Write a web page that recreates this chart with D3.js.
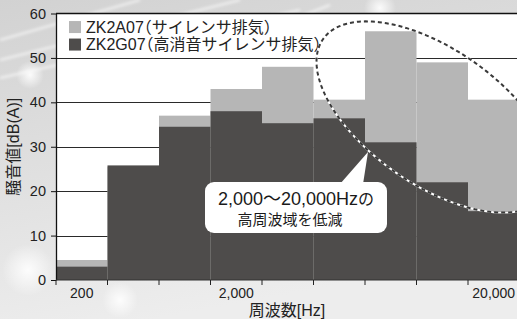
<!DOCTYPE html>
<html>
<head>
<meta charset="utf-8">
<script src="https://cdn.jsdelivr.net/npm/d3@7/dist/d3.min.js"></script>
<style>
  html, body { margin: 0; padding: 0; background: #e6e6e6; }
  svg { display: block; }
  text { font-family: "Liberation Sans", Arial, "Noto Sans CJK JP", sans-serif; font-feature-settings: "halt"; }
</style>
</head>
<body>
<svg id="chart"></svg>
<script>
// frequency bands (9 bands, 200 Hz .. 20,000 Hz)
const bands = ["b1", "b2", "b3", "b4", "b5", "b6", "b7", "b8", "b9"];
const bandLabels = ["200", "", "", "2,000", "", "", "", "", "20,000"];
// ZK2A07 (silencer exhaust)
const standardDb = [4.5, 25.5, 37, 43, 48, 40.6, 56, 49, 40.6];
// ZK2G07 (high-attenuation silencer exhaust)
const quietDb = [3, 25.8, 34.5, 38, 35.3, 36.4, 31, 22, 15.5];
const yTicks = [0, 10, 20, 30, 40, 50, 60];
const seriesNames = ["ZK2A07（サイレンサ排気）", "ZK2G07（高消音サイレンサ排気）"];
const seriesColors = ["#b6b6b6", "#4e4c4b"];

const width = 517, height = 319;
const margin = { top: 13.5, left: 56, bottom: 39 };
const step = 51.5;

const svg = d3.select("#chart").attr("width", width).attr("height", height);
const defs = svg.append("defs");

// silvery background
const bg = defs.append("linearGradient").attr("id", "bg")
    .attr("x1", "0%").attr("y1", "0%").attr("x2", "30%").attr("y2", "100%");
bg.append("stop").attr("offset", "0%").attr("stop-color", "#d2d2d2");
bg.append("stop").attr("offset", "45%").attr("stop-color", "#dedede");
bg.append("stop").attr("offset", "100%").attr("stop-color", "#ededed");
const glow = defs.append("radialGradient").attr("id", "glow");
glow.append("stop").attr("offset", "0%").attr("stop-color", "#fff").attr("stop-opacity", 1);
glow.append("stop").attr("offset", "100%").attr("stop-color", "#fff").attr("stop-opacity", 0);
defs.append("filter").attr("id", "blur").append("feGaussianBlur").attr("stdDeviation", 1.5);

svg.append("rect").attr("width", width).attr("height", height).attr("fill", "url(#bg)");
// light streaks and sparkles
const streaks = [[0, 60, 240, 0], [0, 78, 300, 10], [60, 110, 330, 5], [0, 40, 140, 0]];
svg.append("g").attr("filter", "url(#blur)")
  .selectAll("line").data(streaks).join("line")
    .attr("x1", d => d[0]).attr("y1", d => d[1]).attr("x2", d => d[2]).attr("y2", d => d[3])
    .attr("stroke", "#fff").attr("stroke-width", 2).attr("stroke-opacity", 0.7);
const sparkles = [[28, 270, 26], [30, 75, 14], [160, 35, 12], [380, 8, 16], [505, 255, 22], [120, 300, 18]];
svg.append("g").selectAll("circle").data(sparkles).join("circle")
    .attr("cx", d => d[0]).attr("cy", d => d[1]).attr("r", d => d[2])
    .attr("fill", "url(#glow)").attr("opacity", 0.9);

const x = d3.scaleBand()
    .domain(bands)
    .range([margin.left, margin.left + step * bands.length])
    .paddingInner(0).paddingOuter(0);

const y = d3.scaleLinear()
    .domain([0, 60])
    .range([height - margin.bottom, margin.top]);

const plotRight = x.range()[1];

// plot area
svg.append("rect")
    .attr("x", margin.left).attr("y", y(60))
    .attr("width", plotRight - margin.left).attr("height", y(0) - y(60))
    .attr("fill", "#fff");

// grid lines
svg.append("g").selectAll("line").data(yTicks.filter(d => d > 0 && d < 60)).join("line")
    .attr("x1", margin.left).attr("x2", plotRight)
    .attr("y1", d => Math.round(y(d)) + 0.5).attr("y2", d => Math.round(y(d)) + 0.5)
    .attr("stroke", "#2a2a2a").attr("stroke-width", 1);
svg.append("line")
    .attr("x1", margin.left).attr("x2", plotRight)
    .attr("y1", y(60)).attr("y2", y(60))
    .attr("stroke", "#111").attr("stroke-width", 1.6);

// bars: light series behind, dark series in front
svg.append("g").selectAll("rect").data(standardDb).join("rect")
    .attr("x", (d, i) => x(bands[i]))
    .attr("y", d => y(d))
    .attr("width", x.bandwidth())
    .attr("height", d => y(0) - y(d))
    .attr("fill", seriesColors[0]);

svg.append("g").selectAll("rect").data(quietDb).join("rect")
    .attr("x", (d, i) => x(bands[i]))
    .attr("y", d => y(d))
    .attr("width", x.bandwidth())
    .attr("height", d => y(0) - y(d))
    .attr("fill", seriesColors[1]);

// y axis
const yAxis = svg.append("g")
    .attr("transform", `translate(${margin.left},0)`)
    .call(d3.axisLeft(y).tickValues(yTicks).tickSize(5).tickPadding(5).tickSizeOuter(0));
yAxis.select(".domain").attr("stroke", "#111").attr("stroke-width", 1.3);
yAxis.selectAll(".tick line").attr("stroke", "#111");
yAxis.selectAll("text").attr("font-size", 14.5).attr("fill", "#222")
    .attr("font-family", "Liberation Sans, Arial, sans-serif");

// x axis: ticks on band edges, labels in band centers
const xAxis = svg.append("g").attr("transform", `translate(0,${y(0)})`);
xAxis.append("line").attr("x1", margin.left).attr("x2", plotRight)
    .attr("stroke", "#333").attr("stroke-width", 1);
xAxis.selectAll(".edge").data(bands).join("line")
    .attr("class", "edge")
    .attr("x1", d => x(d)).attr("x2", d => x(d))
    .attr("y1", 0).attr("y2", 5)
    .attr("stroke", "#222");
xAxis.selectAll(".lab").data(bands).join("text")
    .attr("class", "lab")
    .attr("x", d => x(d) + x.bandwidth() / 2)
    .attr("y", 18)
    .attr("text-anchor", "middle")
    .attr("font-size", 14)
    .attr("fill", "#222")
    .text((d, i) => bandLabels[i]);

// axis titles
svg.append("text")
    .attr("transform", `translate(19,${(y(0) + y(60)) / 2}) rotate(-90)`)
    .attr("text-anchor", "middle")
    .attr("font-size", 16).attr("fill", "#222")
    .text("騒音値[dB(A)]");
svg.append("text")
    .attr("x", 287).attr("y", 316)
    .attr("text-anchor", "middle")
    .attr("font-size", 16).attr("fill", "#222")
    .text("周波数[Hz]");

// legend
const legend = svg.append("g").attr("transform", `translate(69,${y(58.3)})`);
seriesNames.forEach((name, i) => {
  const row = legend.append("g").attr("transform", `translate(0,${i * 17.5})`);
  row.append("rect").attr("width", 12).attr("height", 12).attr("fill", seriesColors[i]);
  row.append("text").attr("x", 17).attr("y", 11.5)
      .attr("font-size", 16).attr("fill", "#222").text(name);
});

// dashed ellipse annotation around the high-frequency bands
const cx = x(bands[7]) + 18, cy = y(36.7);
const hw = 118, shear = 0.469 * hw, hh = 78;
const ellipsePts = d3.range(0, 2 * Math.PI, Math.PI / 90)
    .map(t => [cx + hw * Math.cos(t), cy + shear * Math.cos(t) + hh * Math.sin(t)]);
const ellipse = d3.line().curve(d3.curveLinearClosed);
svg.append("path").attr("d", ellipse(ellipsePts))
    .attr("fill", "none").attr("stroke", "#fff").attr("stroke-width", 2);
svg.append("path").attr("d", ellipse(ellipsePts))
    .attr("fill", "none").attr("stroke", "#3a3a3a").attr("stroke-width", 2)
    .attr("stroke-dasharray", "4 3");

// callout box
const box = { x: 205, y: 182, w: 182, h: 51, r: 9 };
const tip = [368, 152];
const callout = svg.append("g");
callout.append("path")
    .attr("d", `M${box.x + 135},${box.y + 2} L${tip[0]},${tip[1]} L${box.x + 158},${box.y + 2} Z`)
    .attr("fill", "#fff");
callout.append("rect")
    .attr("x", box.x).attr("y", box.y).attr("width", box.w).attr("height", box.h)
    .attr("rx", box.r).attr("fill", "#fff");
const line1 = callout.append("text")
    .attr("x", box.x + box.w / 2).attr("y", 204.5)
    .attr("text-anchor", "middle").attr("fill", "#1a1a1a");
line1.append("tspan").attr("font-size", 18).text("2,000〜20,000Hz");
line1.append("tspan").attr("font-size", 16).text("の");
callout.append("text")
    .attr("x", 290).attr("y", 225)
    .attr("text-anchor", "middle").attr("font-size", 15).attr("fill", "#1a1a1a")
    .text("高周波域を低減");
</script>
</body>
</html>
